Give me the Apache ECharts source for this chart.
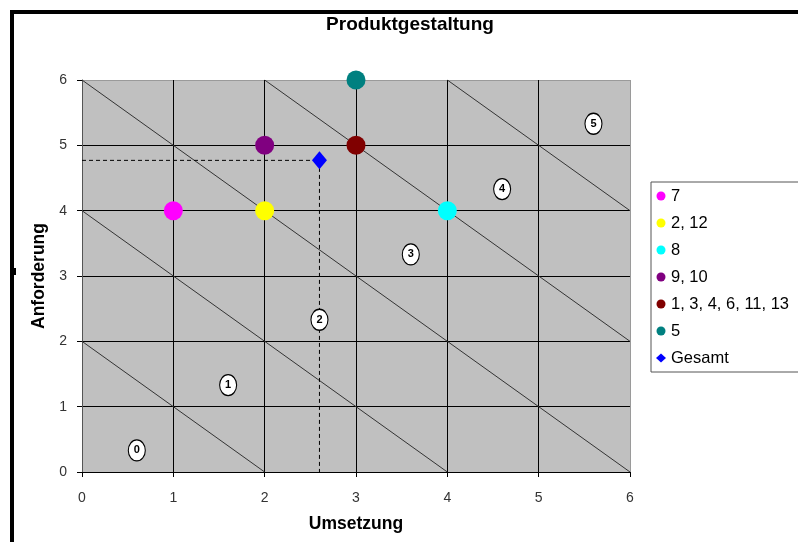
<!DOCTYPE html>
<html><head><meta charset="utf-8">
<script src="https://cdn.jsdelivr.net/npm/echarts@6/dist/echarts.min.js"></script>
<style>html,body{margin:0;padding:0;background:#fff}#c{width:798px;height:542px}</style>
</head><body><div id="c"></div>
<script>
const chartTitle = 'Produktgestaltung';
const xAxisName = 'Umsetzung';
const yAxisName = 'Anforderung';
const seriesNames = ['7', '2, 12', '8', '9, 10', '1, 3, 4, 6, 11, 13', '5', 'Gesamt'];
const umsetzung = [1, 2, 4, 2, 3, 3, 2.6];
const anforderung = [4, 4, 4, 5, 5, 6, 4.77];
const zoneSums = [2, 4, 6, 8, 10];
const zoneLabels = ['0', '1', '2', '3', '4', '5'];
const zoneLabelX = [0.6, 1.6, 2.6, 3.6, 4.6, 5.6];
const zoneLabelY = [0.33, 1.33, 2.33, 3.33, 4.33, 5.33];
const axisMin = 0, axisMax = 6;

const FONT = 'Liberation Sans, Arial, sans-serif';
const colors = ['#FF00FF', '#FFFF00', '#00FFFF', '#800080', '#800000', '#008080', '#0000FF'];

const chart = echarts.init(document.getElementById('c'), null, {renderer: 'canvas'});
const series = [];

// diagonal zone lines
zoneSums.forEach(s => {
  series.push({
    type: 'line', silent: true, symbol: 'none', z: 2,
    data: [[Math.max(axisMin, s - axisMax), Math.min(axisMax, s)], [Math.min(axisMax, s), Math.max(axisMin, s - axisMax)]],
    lineStyle: {color: '#333', width: 1}
  });
});

// dashed guide lines to Gesamt
const gi = seriesNames.indexOf('Gesamt');
series.push({
  type: 'line', silent: true, symbol: 'none', z: 3,
  data: [[axisMin, anforderung[gi]], [umsetzung[gi], anforderung[gi]], [umsetzung[gi], axisMin]],
  lineStyle: {color: '#000', width: 1, type: [4, 3]}
});

// zone labels
series.push({
  type: 'scatter', silent: true, z: 4, clip: false,
  symbol: 'circle', symbolSize: [17, 21],
  itemStyle: {color: '#fff', borderColor: '#000', borderWidth: 1.2, opacity: 1},
  label: {show: true, position: 'inside', formatter: p => zoneLabels[p.dataIndex], fontFamily: FONT, fontWeight: 'bold', fontSize: 11, color: '#000'},
  data: zoneLabelX.map((x, i) => [x, zoneLabelY[i]])
});

// data points
seriesNames.forEach((n, i) => {
  const isG = n === 'Gesamt';
  series.push({
    type: 'scatter', name: n, z: 5, clip: false,
    symbol: isG ? 'diamond' : 'circle',
    symbolSize: isG ? [15, 18] : 19,
    itemStyle: {color: colors[i], opacity: 1},
    data: [[umsetzung[i], anforderung[i]]]
  });
});

const splitColorsX = ['#000', '#000', '#000', '#000', '#000', '#000', '#9a9a9a'];
const splitColorsY = ['#000', '#000', '#000', '#000', '#000', '#000', '#9a9a9a'];

chart.setOption({
  animation: false,
  backgroundColor: '#fff',
  title: {
    text: chartTitle, left: 405, top: 10, textAlign: 'center',
    textStyle: {fontFamily: FONT, fontSize: 19, fontWeight: 'bold', color: '#000'}
  },
  grid: {left: 82, top: 80, width: 548, height: 392, show: true, backgroundColor: '#C0C0C0', borderWidth: 0},
  xAxis: {
    type: 'value', min: axisMin, max: axisMax, interval: 1,
    name: xAxisName, nameLocation: 'middle', nameGap: 43,
    nameTextStyle: {fontFamily: FONT, fontSize: 17.5, fontWeight: 'bold', color: '#000'},
    axisLine: {show: true, lineStyle: {color: '#000', width: 1}},
    axisTick: {show: true, length: 5, lineStyle: {color: '#000'}},
    axisLabel: {fontFamily: FONT, fontSize: 14, color: '#333', margin: 19},
    splitLine: {show: true, lineStyle: {color: splitColorsX, width: 1}}
  },
  yAxis: {
    type: 'value', min: axisMin, max: axisMax, interval: 1,
    name: yAxisName, nameLocation: 'middle', nameGap: 30, nameRotate: 90,
    nameTextStyle: {fontFamily: FONT, fontSize: 17.5, fontWeight: 'bold', color: '#000'},
    axisLine: {show: true, lineStyle: {color: '#555', width: 1}},
    axisTick: {show: true, length: 5, lineStyle: {color: '#000'}},
    axisLabel: {fontFamily: FONT, fontSize: 14, color: '#333', margin: 15},
    splitLine: {show: true, lineStyle: {color: splitColorsY, width: 1}}
  },
  legend: {
    data: seriesNames, orient: 'vertical', left: 651, top: 182,
    padding: [5, 12, 5, 5], itemGap: 9, itemWidth: 10, itemHeight: 9,
    borderColor: '#555', borderWidth: 1, backgroundColor: '#fff',
    textStyle: {fontFamily: FONT, fontSize: 16.5, color: '#000', lineHeight: 18}
  },
  graphic: [
    {type: 'rect', shape: {x: 10, y: 10, width: 788, height: 4}, style: {fill: '#000'}, z: 100},
    {type: 'rect', shape: {x: 10, y: 10, width: 4, height: 532}, style: {fill: '#000'}, z: 100},
    {type: 'rect', shape: {x: 14, y: 268, width: 2, height: 7}, style: {fill: '#000'}, z: 100}
  ],
  series: series
});
</script></body></html>
